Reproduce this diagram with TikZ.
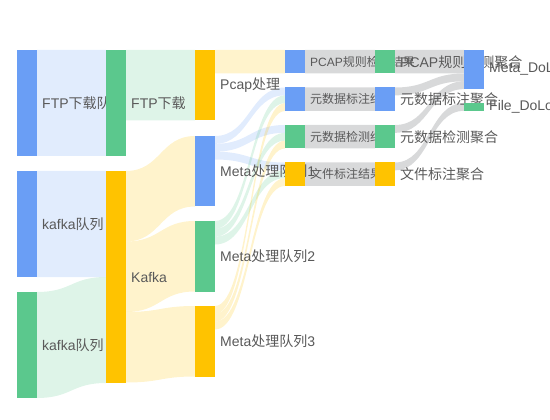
\documentclass[tikz,border=0pt]{standalone}
\usepackage{fontspec}
\setmainfont{Liberation Sans}
\newfontfamily\cjk{Noto Sans CJK SC}
\usetikzlibrary{calc}

\definecolor{nblue}{HTML}{6A9EF5}
\definecolor{ngreen}{HTML}{5BC88D}
\definecolor{nyellow}{HTML}{FFC300}
\definecolor{lgray}{HTML}{3C4048}
\definecolor{labgray}{HTML}{595959}

\pgfdeclarelayer{bars}
\pgfsetlayers{main,bars}

\tikzset{
  qbar/.style={fill=#1, draw=none, anchor=north west, minimum width=20pt,
    inner sep=0pt, outer sep=0pt},
  flowfill/.style={fill=#1, fill opacity=.2},
  lab/.style={anchor=west, inner sep=0pt, text=labgray,
    font=\fontsize{14pt}{16pt}\selectfont},
  smalllab/.style={lab, font=\fontsize{12pt}{14pt}\selectfont},
}

% band from #1 (offset #2) to #3 (offset #4), width #5, colour #6
\newcommand\flow[6]{%
  \fill[flowfill=#6] let \p1=(#1.north east), \p2=(#3.north west) in
    (\x1,{\y1-#2pt}) .. controls ({(\x1+\x2)/2},{\y1-#2pt}) and ({(\x1+\x2)/2},{\y2-#4pt}) .. (\x2,{\y2-#4pt})
    -- (\x2,{\y2-#4pt-#5pt})
    .. controls ({(\x1+\x2)/2},{\y2-#4pt-#5pt}) and ({(\x1+\x2)/2},{\y1-#2pt-#5pt}) .. (\x1,{\y1-#2pt-#5pt})
    -- cycle;}

\begin{document}
\begin{tikzpicture}[x=1pt,y=-1pt]
\useasboundingbox (0,0) rectangle (550,420);
\clip (0,0) rectangle (550,420);

% nodes
\begin{pgfonlayer}{bars}
\node[qbar=nblue, minimum height=106pt] (ftpq) at (17,50) {};
\node[qbar=nblue, minimum height=106pt] (kq1) at (17,171) {};
\node[qbar=ngreen, minimum height=106pt] (kq2) at (17,292) {};

\node[qbar=ngreen, minimum height=106pt] (ftp) at (106,50) {};
\node[qbar=nyellow, minimum height=212pt] (kafka) at (106,171) {};

\node[qbar=nyellow, minimum height=70.5pt] (pcap) at (195,50) {};
\node[qbar=nblue, minimum height=70.5pt] (meta1) at (195,136) {};
\node[qbar=ngreen, minimum height=70.5pt] (meta2) at (195,221) {};
\node[qbar=nyellow, minimum height=70.5pt] (meta3) at (195,306) {};

\node[qbar=nblue, minimum height=23.5pt] (pres) at (285,50) {};
\node[qbar=nblue, minimum height=23.5pt] (mres) at (285,87.5) {};
\node[qbar=ngreen, minimum height=23.5pt] (cres) at (285,125) {};
\node[qbar=nyellow, minimum height=23.5pt] (fres) at (285,162.5) {};

\node[qbar=ngreen, minimum height=23.5pt] (pagg) at (375,50) {};
\node[qbar=nblue, minimum height=23.5pt] (magg) at (375,87.5) {};
\node[qbar=ngreen, minimum height=23.5pt] (cagg) at (375,125) {};
\node[qbar=nyellow, minimum height=23.5pt] (fagg) at (375,162.5) {};

\node[qbar=nblue, minimum height=39pt] (metadl) at (464,50) {};
\node[qbar=ngreen, minimum height=7.83pt] (filedl) at (464,103) {};
\end{pgfonlayer}

% flows
\flow{ftpq}{0}{ftp}{0}{106}{nblue}
\flow{kq1}{0}{kafka}{0}{106}{nblue}
\flow{kq2}{0}{kafka}{106}{106}{ngreen}
\flow{ftp}{0}{pcap}{0}{70.5}{ngreen}
\flow{kafka}{0}{meta1}{0}{70.5}{nyellow}
\flow{kafka}{70.5}{meta2}{0}{70.5}{nyellow}
\flow{kafka}{141}{meta3}{0}{70.5}{nyellow}
\flow{pcap}{0}{pres}{0}{23.5}{nyellow}
\flow{meta1}{0}{mres}{0}{7.83}{nblue}
\flow{meta1}{7.83}{cres}{0}{7.83}{nblue}
\flow{meta1}{15.67}{fres}{0}{7.83}{nblue}
\flow{meta2}{0}{mres}{7.83}{7.83}{ngreen}
\flow{meta2}{7.83}{cres}{7.83}{7.83}{ngreen}
\flow{meta2}{15.67}{fres}{7.83}{7.83}{ngreen}
\flow{meta3}{0}{mres}{15.67}{7.83}{nyellow}
\flow{meta3}{7.83}{cres}{15.67}{7.83}{nyellow}
\flow{meta3}{15.67}{fres}{15.67}{7.83}{nyellow}
\foreach \a/\b in {pres/pagg, mres/magg, cres/cagg, fres/fagg}
  \flow{\a}{0}{\b}{0}{23.5}{lgray};
\flow{pagg}{0}{metadl}{0}{23.5}{lgray}
\flow{magg}{0}{metadl}{23.5}{7.83}{lgray}
\flow{cagg}{0}{metadl}{31.33}{7.83}{lgray}
\flow{fagg}{0}{filedl}{0}{7.83}{lgray}

% labels
\node[lab] (ftpq-t) at ([xshift=5pt]ftpq.east) {FTP{\cjk 下载队列}};
\node[lab] (kq1-t) at ([xshift=5pt]kq1.east) {kafka{\cjk 队列}};
\node[lab] (kq2-t) at ([xshift=5pt]kq2.east) {kafka{\cjk 队列}};
\node[lab] (ftp-t) at ([xshift=5pt]ftp.east) {FTP{\cjk 下载}};
\node[lab] (kafka-t) at ([xshift=5pt]kafka.east) {Kafka};
\node[lab] (pcap-t) at ([xshift=5pt]pcap.east) {Pcap{\cjk 处理}};
\node[lab] (meta1-t) at ([xshift=5pt]meta1.east) {Meta{\cjk 处理队列}1};
\node[lab] (meta2-t) at ([xshift=5pt]meta2.east) {Meta{\cjk 处理队列}2};
\node[lab] (meta3-t) at ([xshift=5pt]meta3.east) {Meta{\cjk 处理队列}3};
\node[smalllab] (pres-t) at ([xshift=5pt]pres.east) {PCAP{\cjk 规则检测结果}};
\node[smalllab] (mres-t) at ([xshift=5pt]mres.east) {{\cjk 元数据标注结果}};
\node[smalllab] (cres-t) at ([xshift=5pt]cres.east) {{\cjk 元数据检测结果}};
\node[smalllab] (fres-t) at ([xshift=5pt]fres.east) {{\cjk 文件标注结果}};
\node[lab] (pagg-t) at ([xshift=5pt]pagg.east) {PCAP{\cjk 规则检测聚合}};
\node[lab] (magg-t) at ([xshift=5pt]magg.east) {{\cjk 元数据标注聚合}};
\node[lab] (cagg-t) at ([xshift=5pt]cagg.east) {{\cjk 元数据检测聚合}};
\node[lab] (fagg-t) at ([xshift=5pt]fagg.east) {{\cjk 文件标注聚合}};
\node[lab] (metadl-t) at ([xshift=5pt]metadl.east) {Meta\_DoL};
\node[lab] (filedl-t) at ([xshift=5pt]filedl.east) {File\_DoLo};
\end{tikzpicture}
\end{document}
